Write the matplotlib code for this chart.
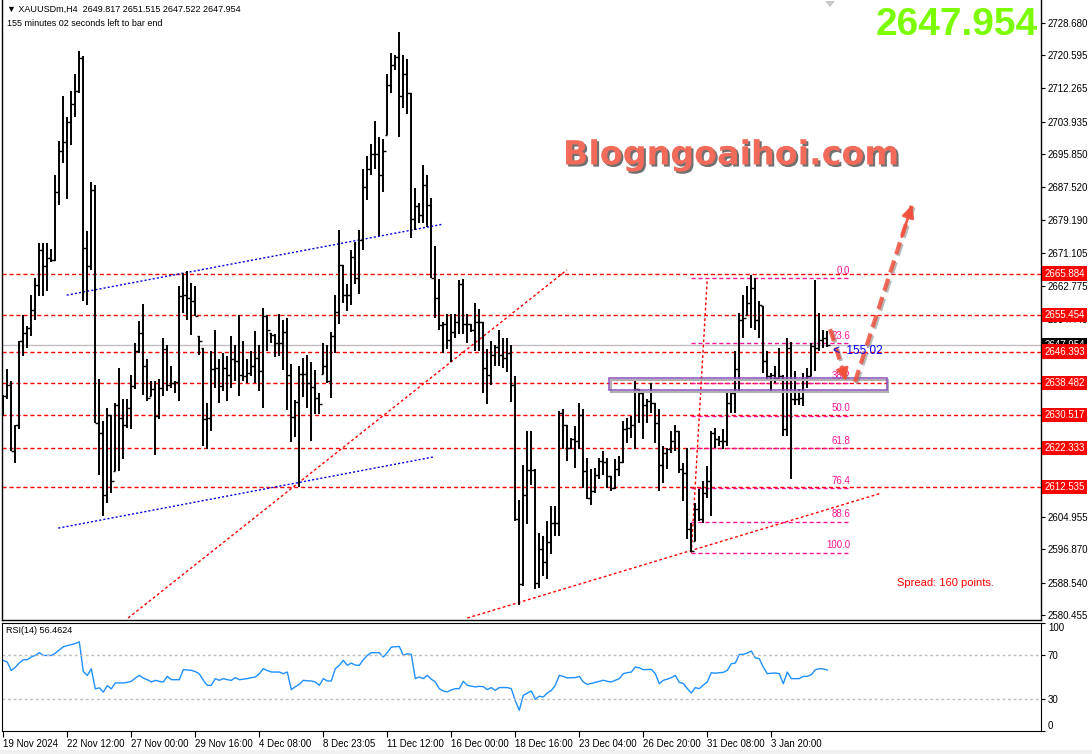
import matplotlib
matplotlib.use("Agg")
import matplotlib.pyplot as plt
import matplotlib.patheffects as pe
from matplotlib.patches import Rectangle, Polygon
import numpy as np

############################## DATA (XAUUSDm, H4) ##############################
highs = [
    2635.6, 2641.9, 2639.0, 2628.1, 2649.0, 2655.6, 2652.7, 2660.6, 2664.8, 2673.6,
    2673.6, 2673.6, 2672.1, 2690.6, 2699.0, 2710.4, 2705.1, 2711.6, 2715.9, 2721.7,
    2720.4, 2676.5, 2688.8, 2688.0, 2639.4, 2629.0, 2632.3, 2630.6, 2633.6, 2642.3,
    2634.4, 2634.4, 2640.6, 2648.6, 2654.0, 2658.3, 2644.4, 2639.0, 2639.0, 2639.4,
    2649.8, 2648.1, 2642.7, 2639.0, 2662.7, 2666.1, 2666.5, 2663.6, 2662.7, 2650.2,
    2647.3, 2633.6, 2646.5, 2651.9, 2644.4, 2646.1, 2645.2, 2650.2, 2648.1, 2655.6,
    2649.0, 2644.4, 2646.5, 2651.5, 2648.1, 2657.3, 2655.6, 2651.1, 2650.9, 2655.7,
    2654.3, 2654.7, 2643.3, 2634.2, 2642.8, 2644.7, 2645.6, 2643.7, 2641.8, 2636.1,
    2648.5, 2648.0, 2651.4, 2660.5, 2676.7, 2668.1, 2663.3, 2671.9, 2673.8, 2676.7,
    2692.0, 2695.4, 2698.2, 2704.2, 2700.1, 2699.6, 2715.9, 2721.2, 2720.7, 2726.4,
    2720.7, 2719.7, 2711.1, 2687.2, 2683.6, 2693.0, 2690.6, 2684.8, 2672.9, 2664.5,
    2653.8, 2655.7, 2655.7, 2655.7, 2664.3, 2664.5, 2655.7, 2653.3, 2658.6, 2657.1,
    2653.8, 2647.0, 2649.0, 2648.0, 2651.9, 2649.9, 2649.9, 2648.0, 2640.2, 2609.3,
    2618.1, 2626.5, 2626.5, 2616.9, 2601.1, 2600.2, 2604.0, 2607.7, 2607.7, 2631.5,
    2631.9, 2628.1, 2624.8, 2627.7, 2633.6, 2631.9, 2619.8, 2616.9, 2617.3, 2619.8,
    2621.5, 2619.8, 2615.2, 2619.4, 2620.2, 2629.0, 2629.8, 2630.2, 2639.0, 2636.9,
    2636.1, 2634.4, 2638.6, 2633.6, 2631.9, 2622.7, 2622.3, 2626.5, 2628.1, 2626.5,
    2618.6, 2622.3, 2603.6, 2608.6, 2611.9, 2614.0, 2617.7, 2626.5, 2627.3, 2625.2,
    2626.9, 2636.5, 2636.5, 2646.5, 2656.1, 2660.6, 2662.7, 2665.6, 2664.8, 2659.0,
    2657.7, 2646.5, 2641.1, 2642.7, 2647.3, 2640.6, 2649.8, 2648.7, 2641.5, 2636.9,
    2641.1, 2642.3, 2648.6, 2664.4, 2656.0, 2651.8, 2651.515,
]
lows = [
    2630.2, 2634.4, 2621.5, 2618.6, 2626.9, 2645.2, 2647.3, 2650.2, 2654.4, 2660.2,
    2660.2, 2661.5, 2668.7, 2669.0, 2683.1, 2693.6, 2684.6, 2698.1, 2705.0, 2711.1,
    2659.0, 2658.1, 2666.9, 2628.6, 2615.6, 2605.2, 2608.6, 2611.1, 2616.5, 2616.5,
    2619.4, 2627.3, 2626.9, 2636.9, 2646.1, 2635.6, 2634.0, 2635.2, 2620.6, 2629.4,
    2635.2, 2636.5, 2637.3, 2636.1, 2634.0, 2656.1, 2654.4, 2650.6, 2655.2, 2645.6,
    2622.7, 2621.9, 2626.5, 2637.3, 2633.6, 2636.5, 2634.0, 2637.3, 2639.0, 2635.2,
    2639.0, 2638.6, 2640.2, 2638.6, 2636.5, 2632.3, 2646.5, 2648.6, 2645.1, 2645.2,
    2641.8, 2631.8, 2623.7, 2625.1, 2612.6, 2635.1, 2632.3, 2624.1, 2630.8, 2630.8,
    2640.8, 2638.5, 2634.7, 2646.1, 2653.3, 2658.6, 2656.6, 2658.1, 2663.3, 2660.9,
    2671.9, 2684.4, 2690.6, 2692.0, 2675.2, 2686.3, 2700.6, 2711.1, 2716.9, 2700.1,
    2707.3, 2705.9, 2674.8, 2676.7, 2678.6, 2678.6, 2677.6, 2664.8, 2654.7, 2651.9,
    2646.1, 2647.0, 2643.7, 2649.9, 2650.9, 2650.9, 2648.5, 2651.4, 2646.6, 2646.6,
    2636.1, 2633.2, 2637.9, 2642.8, 2642.8, 2642.3, 2641.3, 2633.7, 2604.0, 2583.0,
    2587.7, 2603.2, 2613.1, 2586.9, 2587.1, 2590.2, 2589.4, 2595.6, 2600.2, 2600.2,
    2621.9, 2619.0, 2621.9, 2617.3, 2621.9, 2612.3, 2609.4, 2608.1, 2611.1, 2614.4,
    2615.6, 2612.3, 2611.5, 2611.9, 2615.2, 2618.6, 2623.6, 2624.8, 2621.9, 2628.6,
    2624.4, 2628.6, 2631.1, 2623.6, 2611.5, 2613.6, 2616.9, 2621.1, 2621.5, 2616.1,
    2609.0, 2599.4, 2596.1, 2599.0, 2604.0, 2603.6, 2609.8, 2605.2, 2622.3, 2622.7,
    2621.9, 2622.7, 2631.1, 2631.1, 2636.1, 2649.8, 2655.6, 2652.3, 2651.9, 2649.8,
    2641.1, 2639.0, 2636.5, 2638.6, 2639.0, 2625.2, 2625.2, 2614.4, 2633.1, 2633.1,
    2632.7, 2637.3, 2640.2, 2641.5, 2646.4, 2647.2, 2647.522,
]
closes = [
    2635.2, 2638.1, 2621.5, 2628.1, 2649.0, 2651.1, 2652.3, 2656.9, 2663.1, 2671.9,
    2667.7, 2669.8, 2669.4, 2686.3, 2696.6, 2698.8, 2703.8, 2708.3, 2711.5, 2719.8,
    2672.3, 2667.7, 2686.9, 2628.6, 2626.1, 2610.6, 2630.6, 2614.0, 2633.1, 2629.8,
    2628.1, 2632.3, 2637.7, 2646.5, 2651.1, 2642.7, 2634.8, 2636.9, 2630.2, 2637.3,
    2646.9, 2638.1, 2638.6, 2638.7, 2660.2, 2660.6, 2659.8, 2659.0, 2655.2, 2649.0,
    2629.4, 2629.8, 2641.9, 2642.3, 2637.7, 2642.3, 2640.6, 2644.4, 2644.0, 2640.6,
    2640.2, 2641.1, 2642.7, 2644.8, 2641.5, 2655.2, 2651.9, 2650.6, 2648.6, 2648.5,
    2651.4, 2640.4, 2629.9, 2633.7, 2640.8, 2640.8, 2638.5, 2637.5, 2634.7, 2633.2,
    2642.8, 2639.0, 2650.4, 2656.2, 2668.1, 2660.5, 2660.5, 2670.0, 2664.8, 2674.3,
    2687.5, 2692.0, 2695.8, 2695.8, 2690.6, 2696.5, 2713.0, 2718.0, 2720.2, 2710.4,
    2715.9, 2711.1, 2679.6, 2682.7, 2680.5, 2688.0, 2683.1, 2664.8, 2659.8, 2653.1,
    2653.3, 2649.2, 2651.4, 2653.8, 2663.3, 2653.3, 2653.3, 2651.9, 2653.8, 2653.8,
    2642.3, 2640.4, 2645.4, 2647.4, 2645.6, 2644.7, 2646.1, 2638.0, 2604.6, 2588.3,
    2610.6, 2616.7, 2616.7, 2588.4, 2596.9, 2593.6, 2598.6, 2603.6, 2603.6, 2631.1,
    2628.1, 2622.3, 2624.4, 2624.0, 2630.6, 2616.5, 2609.8, 2611.5, 2615.6, 2619.0,
    2618.7, 2615.2, 2612.3, 2616.9, 2618.7, 2626.9, 2627.3, 2628.1, 2636.9, 2636.1,
    2633.1, 2634.0, 2633.6, 2628.6, 2618.1, 2621.1, 2621.9, 2624.0, 2626.5, 2616.9,
    2616.1, 2601.9, 2596.5, 2606.9, 2604.4, 2611.1, 2614.0, 2626.1, 2624.4, 2624.0,
    2624.0, 2633.6, 2636.1, 2642.1, 2654.4, 2654.8, 2658.6, 2662.3, 2654.4, 2658.1,
    2644.0, 2640.2, 2640.6, 2639.8, 2640.2, 2626.9, 2647.3, 2634.4, 2634.4, 2634.8,
    2639.4, 2640.2, 2647.7, 2647.3, 2649.4, 2649.8, 2647.954,
]
first_open = 2631.0
last_open = 2649.817

rsi = [
    65.4, 63.8, 56.0, 59.0, 63.0, 66.0, 66.0, 68.5, 70.0, 72.5,
    70.0, 70.0, 70.0, 72.0, 75.0, 78.0, 79.0, 80.0, 81.0, 82.6,
    55.0, 51.5, 57.7, 39.0, 40.0, 36.0, 42.0, 39.0, 44.5, 44.5,
    44.5, 45.0, 46.0, 49.0, 51.5, 49.0, 47.5, 45.4, 46.9, 46.0,
    45.4, 50.6, 47.5, 47.5, 47.5, 56.8, 56.5, 56.2, 55.0, 53.0,
    47.0, 42.3, 42.3, 48.5, 46.9, 48.5, 47.5, 46.9, 49.4, 47.5,
    48.0, 48.5, 49.4, 50.0, 53.0, 57.7, 56.0, 54.6, 54.6, 54.6,
    53.1, 54.6, 38.3, 41.0, 43.2, 46.9, 46.5, 46.3, 45.4, 42.3,
    48.5, 46.3, 46.3, 57.7, 60.8, 65.4, 60.8, 62.9, 61.0, 60.8,
    66.0, 70.0, 72.5, 72.5, 72.5, 68.5, 72.5, 77.7, 78.0, 78.3,
    70.0, 71.5, 71.0, 48.5, 50.0, 48.5, 51.5, 48.0, 45.4, 39.2,
    37.0, 36.2, 38.0, 39.2, 39.2, 46.0, 42.3, 41.5, 40.8, 41.4,
    41.0, 38.3, 40.2, 37.7, 40.2, 40.2, 40.2, 39.2, 28.0, 19.2,
    33.1, 35.0, 37.1, 29.4, 32.2, 31.5, 35.2, 37.5, 42.3, 51.5,
    50.5, 49.1, 49.4, 49.4, 50.6, 45.4, 43.2, 44.0, 45.0, 46.0,
    47.0, 46.0, 45.4, 47.0, 48.5, 53.1, 54.0, 54.6, 59.2, 58.5,
    56.8, 57.0, 57.1, 53.1, 43.8, 46.9, 48.0, 49.4, 51.5, 45.0,
    44.0, 39.2, 35.2, 40.2, 39.2, 42.5, 45.4, 54.0, 53.5, 54.0,
    54.3, 56.2, 62.3, 62.9, 70.9, 71.0, 72.2, 74.0, 67.8, 66.9,
    59.2, 53.1, 53.5, 53.7, 53.1, 43.8, 54.6, 48.5, 48.5, 48.5,
    50.6, 50.6, 52.1, 56.8, 57.7, 57.5, 56.4624,
]

time_labels = ["19 Nov 2024", "22 Nov 12:00", "27 Nov 00:00", "29 Nov 16:00",
               "4 Dec 08:00", "8 Dec 23:05", "11 Dec 12:00", "16 Dec 00:00",
               "18 Dec 16:00", "23 Dec 04:00", "26 Dec 20:00", "31 Dec 08:00",
               "3 Jan 20:00"]
price_ticks = [2728.680, 2720.595, 2712.265, 2703.935, 2695.850, 2687.520, 2679.190,
               2671.105, 2662.775, 2654.445, 2646.115, 2638.030, 2629.700, 2621.615,
               2613.285, 2604.955, 2596.870, 2588.540, 2580.455]
sr_levels = [2665.884, 2655.454, 2646.393, 2638.482, 2630.517, 2622.333, 2612.535]

fib_levels = [0.0, 23.6, 38.2, 50.0, 61.8, 76.4, 88.6, 100.0]
fib_high = 2664.7
fib_low = 2596.0
fib_bars = [173, 177]

# drawing objects: (bar, bar), (price, price)
red_trend_1 = ([32.2, 141.9], [2579.7, 2666.8])
red_trend_2 = ([117.0, 220.0], [2579.7, 2610.8])
blue_trend_1 = ([16.85, 110.6], [2660.5, 2678.2])
blue_trend_2 = ([14.75, 108.5], [2602.2, 2620.0])
zone_bars = [152.5, 221.85]
zone_prices = [2636.8, 2639.7]
arrow_down = ([207.7, 211.7], [2652.0, 2639.0])
arrow_up = ([213.9, 228.2], [2638.8, 2683.1])

############################## FIGURE ##############################
W, H = 1092, 754
fig = plt.figure(figsize=(W / 100, H / 100), dpi=100)
fig.patch.set_facecolor("white")


def fx(x):
    return x / W


def fy(y):
    return 1 - y / H


AXL, AXR = 2, 1041
ax = fig.add_axes([fx(AXL), fy(620), (AXR - AXL) / W, 620 / H])
ax_rsi = fig.add_axes([fx(AXL), fy(731), (AXR - AXL) / W, (731 - 623) / H])

n = len(closes)
idx = np.arange(1, n + 1)
hi = np.array(highs)
lo = np.array(lows)
cl = np.array(closes)
op = np.concatenate([[first_open], cl[:-1]])
op[-1] = last_open
op = np.clip(op, lo, hi)

xlim = (0.675, 0.675 + (AXR - AXL) / 4)
FONT = "Liberation Sans"

# horizontal levels
cur_price = closes[-1]
ax.axhline(cur_price, color="#c0c0c0", lw=1, zorder=1)
for lv in sr_levels:
    ax.axhline(lv, color="red", lw=1, ls=(0, (3, 2)), zorder=1)

# trend lines
ax.plot(*red_trend_1, color="red", lw=1, ls=(0, (2, 1.8)), zorder=1)
ax.plot(*red_trend_2, color="red", lw=1, ls=(0, (2, 1.8)), zorder=1)
ax.plot(*blue_trend_1, color="#0000dd", lw=1, ls=(0, (1.5, 1.5)), zorder=1)
ax.plot(*blue_trend_2, color="#0000dd", lw=1, ls=(0, (1.5, 1.5)), zorder=1)

# fibonacci
fib_end = 212.7
for lvl in fib_levels:
    p = fib_high - (fib_high - fib_low) * lvl / 100
    ax.plot([fib_bars[0], fib_end], [p, p], color="#ff1493", lw=1, ls=(0, (3, 2)), zorder=1)
    ax.text(fib_end, p + 0.6, f"{lvl:.1f}", color="#ff1493", fontsize=7, family=FONT,
            ha="right", va="bottom", zorder=2)
ax.plot(fib_bars, [fib_low, fib_high], color="red", lw=1, ls=(0, (2, 1.8)), zorder=1)

# OHLC bars
ax.vlines(idx, lo, hi, color="black", lw=1.4, zorder=3)
ax.hlines(op, idx - 0.55, idx, color="black", lw=1, zorder=3)
ax.hlines(cl, idx, idx + 0.55, color="black", lw=1, zorder=3)

# zone rectangle
ax.add_patch(Rectangle((zone_bars[0] + 0.3, zone_prices[0] - 0.45), zone_bars[1] - zone_bars[0],
                       zone_prices[1] - zone_prices[0], fill=False, ec="#b0b0b0", lw=1.5, zorder=4))
ax.add_patch(Rectangle((zone_bars[0], zone_prices[0]), zone_bars[1] - zone_bars[0],
                       zone_prices[1] - zone_prices[0], fill=False, ec="#8a4fc0", lw=1.1, zorder=4))

# arrows
arrow_col = "#f0503c"
shadow = [pe.SimpleLineShadow(offset=(1.2, -1.2), shadow_color="#777777", alpha=0.5), pe.Normal()]
for xs, ys in (arrow_down, arrow_up):
    ax.plot(xs, ys, color=arrow_col, lw=3, ls=(0, (3, 1.6)), alpha=0.85, zorder=5,
            path_effects=shadow, solid_capstyle="butt", dash_capstyle="butt")
    fr = 0.18
    ax.annotate("", xy=(xs[1], ys[1]),
                xytext=(xs[1] - (xs[1] - xs[0]) * fr, ys[1] - (ys[1] - ys[0]) * fr),
                arrowprops=dict(arrowstyle="-|>", color=arrow_col, lw=2, alpha=0.9,
                                mutation_scale=18, shrinkA=0, shrinkB=0), zorder=5)

# countdown label
ax.text(208.4, 2646.4, "<  155:02", color="#0000ff", fontsize=8.5, family=FONT,
        ha="left", va="center", zorder=6)

ax.set_xlim(*xlim)
ax.set_ylim(2734.36 - 620 * 0.25025, 2734.36)
ax.set_xticks([])
ax.yaxis.tick_right()
ax.set_yticks(price_ticks)
ax.set_yticklabels([f"{t:.3f}" for t in price_ticks])
ax.tick_params(axis="y", length=3, width=0.8, pad=2, labelsize=7, colors="black")
for lab in ax.get_yticklabels():
    lab.set_family(FONT)
ax.spines["top"].set_visible(False)
for s in ["left", "right", "bottom"]:
    ax.spines[s].set_linewidth(1)

# price labels on the right axis (they cover the axis labels beneath, as in the terminal)
ytr = ax.get_yaxis_transform()
ax.text(1.003, cur_price, f"{cur_price:.3f}", transform=ytr, color="white", fontsize=7,
        family=FONT, ha="left", va="center", zorder=7,
        bbox=dict(boxstyle="square,pad=0.22", fc="black", ec="none"))
for lv in sr_levels:
    ax.text(1.003, lv, f"{lv:.3f}", transform=ytr, color="white", fontsize=7, family=FONT,
            ha="left", va="center", zorder=8,
            bbox=dict(boxstyle="square,pad=0.22", fc="#ff0000", ec="none"))

############################## RSI ##############################
ax_rsi.plot(idx, rsi, color="#1e90ff", lw=1)
for lv in (70, 30):
    ax_rsi.axhline(lv, color="#bdbdbd", lw=1, ls=(0, (2, 2)))
ax_rsi.set_xlim(*xlim)
ax_rsi.set_ylim(0, 100)
ax_rsi.yaxis.tick_right()
ax_rsi.set_yticks([0, 30, 70, 100])
ax_rsi.set_yticklabels(["0", "30", "70", "100"])
ax_rsi.tick_params(axis="y", length=3, width=0.8, pad=2, labelsize=7)
for lab in ax_rsi.get_yticklabels():
    lab.set_family(FONT)
    if lab.get_text() == "100":
        lab.set_va("top")
    elif lab.get_text() == "0":
        lab.set_va("bottom")
ax_rsi.set_xticks(idx[::16][:len(time_labels)])
ax_rsi.set_xticklabels(time_labels)
ax_rsi.tick_params(axis="x", length=4, width=0.8, pad=2, labelsize=7)
for lab in ax_rsi.get_xticklabels():
    lab.set_ha("left")
    lab.set_family(FONT)
ax_rsi.text(0.004, 0.97, f"RSI(14) {rsi[-1]:.4f}", transform=ax_rsi.transAxes,
            fontsize=6.5, family=FONT, ha="left", va="top")

############################## TEXT OVERLAYS ##############################
fig.text(fx(7), fy(9), f"\u25bc XAUUSDm,H4  {last_open:.3f} {highs[-1]:.3f} {lows[-1]:.3f} {closes[-1]:.3f}",
         fontsize=6.5, family=[FONT, "DejaVu Sans"], ha="left", va="center")
fig.text(fx(7), fy(23), "155 minutes 02 seconds left to bar end",
         fontsize=6.5, family=FONT, ha="left", va="center")
fig.text(fx(1038), fy(25), f"{closes[-1]:.3f}", fontsize=28, family=FONT, weight="bold",
         color="#7cfc00", ha="right", va="center")
fig.text(fx(731), fy(155), "Blogngoaihoi.com", fontsize=24, family="DejaVu Sans", weight="bold",
         color="#f26a5a", ha="center", va="center",
         path_effects=[pe.withSimplePatchShadow(offset=(1.5, -1.5), shadow_rgbFace="#333333", alpha=0.7)])
fig.text(fx(897), fy(583), "Spread: 160 points.", fontsize=8, family=FONT, color="red",
         ha="left", va="center")

fig.add_artist(Polygon([[fx(825), fy(1)], [fx(835), fy(1)], [fx(830), fy(7)]],
                       closed=True, fc="#c8c8c8", ec="none", transform=fig.transFigure))
fig.add_artist(Rectangle((0, 0), 1, 4 / H, fc="#f0f0f0", ec="none", transform=fig.transFigure))

fig.savefig("out.png", dpi=100)
